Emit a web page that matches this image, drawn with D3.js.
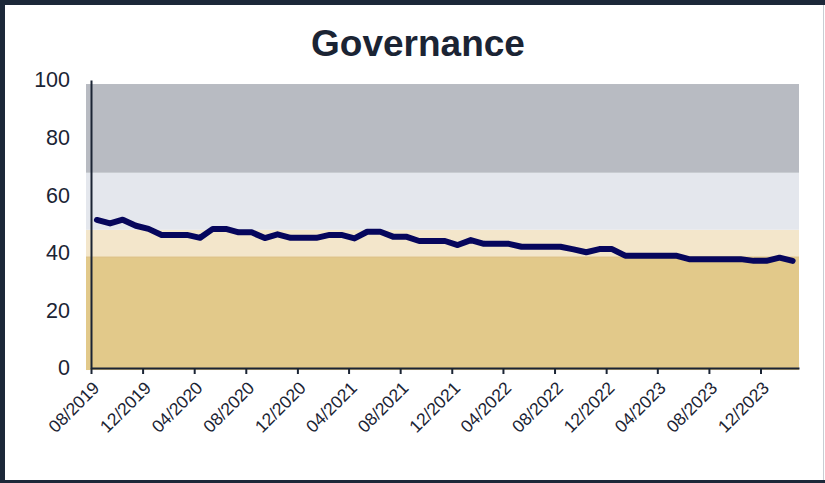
<!DOCTYPE html>
<html>
<head>
<meta charset="utf-8">
<script src="https://cdn.jsdelivr.net/npm/d3@7/dist/d3.min.js"></script>
<style>
  html, body { margin: 0; padding: 0; background: #fff; }
  svg { display: block; }
  text { font-family: "Liberation Sans", Arial, sans-serif; fill: #1b2434; }
</style>
</head>
<body>
<svg id="chart" width="825" height="483"></svg>
<script>
// ---------- data ----------
const title = "Governance";
const months = [
  "2019-08","2019-09","2019-10","2019-11","2019-12",
  "2020-01","2020-02","2020-03","2020-04","2020-05","2020-06","2020-07","2020-08","2020-09","2020-10","2020-11","2020-12",
  "2021-01","2021-02","2021-03","2021-04","2021-05","2021-06","2021-07","2021-08","2021-09","2021-10","2021-11","2021-12",
  "2022-01","2022-02","2022-03","2022-04","2022-05","2022-06","2022-07","2022-08","2022-09","2022-10","2022-11","2022-12",
  "2023-01","2023-02","2023-03","2023-04","2023-05","2023-06","2023-07","2023-08","2023-09","2023-10","2023-11","2023-12",
  "2024-01","2024-02"
];
const scores = [
  51.4, 50.2, 51.5, 49.4, 48.3,
  46.2, 46.2, 46.2, 45.2, 48.3, 48.3, 47.1, 47.1, 45.1, 46.4, 45.2, 45.2,
  45.2, 46.2, 46.2, 45.0, 47.3, 47.3, 45.6, 45.6, 44.1, 44.1, 44.1, 42.7,
  44.4, 43.1, 43.1, 43.1, 42.1, 42.1, 42.1, 42.1, 41.2, 40.2, 41.3, 41.3,
  39.0, 39.0, 39.0, 39.0, 39.0, 37.8, 37.8, 37.8, 37.8, 37.8, 37.2, 37.2,
  38.3, 37.2
];
const tickLabels = ["08/2019","12/2019","04/2020","08/2020","12/2020","04/2021","08/2021",
                    "12/2021","04/2022","08/2022","12/2022","04/2023","08/2023","12/2023"];
const yTicks = [0, 20, 40, 60, 80, 100];
const bandLow  = [-0.7, 38.5, 48.0, 67.8];
const bandHigh = [38.5, 48.0, 67.8, 98.6];
const bandColors = ["#e2c98a", "#f3e6cb", "#e4e7ed", "#b8bbc2"];

// ---------- layout ----------
const W = 825, H = 483;
const svg = d3.select("#chart");

const parseMonth = d3.timeParse("%Y-%m");
const parseTick = d3.timeParse("%m/%Y");

const x = d3.scaleTime()
  .domain([new Date(2019, 7, 1), new Date(2024, 2, 1)])
  .range([91, 799]);
const y = d3.scaleLinear().domain([0, 100]).range([368, 80]);

svg.append("rect").attr("x", 0).attr("y", 0).attr("width", W).attr("height", H).attr("fill", "#fff");

// bands
svg.append("g").selectAll("rect")
  .data(bandLow.map((lo, i) => ({lo, hi: bandHigh[i], c: bandColors[i]})))
  .join("rect")
  .attr("x", x.range()[0] - 5)
  .attr("width", x.range()[1] - x.range()[0] + 5)
  .attr("y", d => y(d.hi))
  .attr("height", d => y(d.lo) - y(d.hi))
  .attr("fill", d => d.c);
svg.append("line")
  .attr("x1", x.range()[0] - 5).attr("x2", x.range()[1])
  .attr("y1", y(bandHigh[0])).attr("y2", y(bandHigh[0]))
  .attr("stroke", "#d9bd7c").attr("stroke-width", 1);

// line
const pts = months.map((m, i) => {
  const d = parseMonth(m);
  return {date: new Date(d.getFullYear(), d.getMonth(), 15), v: scores[i]};
});
svg.append("path")
  .datum(pts)
  .attr("fill", "none")
  .attr("stroke", "#06065c")
  .attr("stroke-width", 6)
  .attr("stroke-linejoin", "round")
  .attr("stroke-linecap", "round")
  .attr("d", d3.line().x(d => x(d.date)).y(d => y(d.v)));

// x axis
const tickDates = tickLabels.map(parseTick);
const xAxis = svg.append("g")
  .attr("transform", `translate(0,${y(0)})`)
  .call(d3.axisBottom(x).tickValues(tickDates).tickSize(6).tickSizeOuter(0).tickFormat((d, i) => tickLabels[i]));
xAxis.select(".domain").attr("stroke", "#1b2434").attr("stroke-width", 2);
xAxis.selectAll(".tick line").attr("stroke", "#1b2434").attr("stroke-width", 2);
xAxis.selectAll(".tick text")
  .attr("font-size", 17.5)
  .attr("fill", "#1b2434")
  .attr("text-anchor", "end")
  .attr("y", 0).attr("dy", 0)
  .attr("transform", "translate(9,21) rotate(-45)");

// y axis
const yAxis = svg.append("g")
  .attr("transform", `translate(${x.range()[0]},0)`)
  .call(d3.axisLeft(y).tickValues(yTicks).tickSize(0).tickPadding(21));
yAxis.select(".domain").attr("stroke", "#1b2434").attr("stroke-width", 2);
yAxis.selectAll(".tick text").attr("font-size", 21.5).attr("fill", "#1b2434");

// title
svg.append("text")
  .attr("x", 418).attr("y", 56)
  .attr("text-anchor", "middle")
  .attr("font-size", 37)
  .attr("font-weight", "bold")
  .attr("fill", "#16223a")
  .text(title);

// border
svg.append("rect").attr("x", 0).attr("y", 0).attr("width", W).attr("height", 5).attr("fill", "#1c2839");
svg.append("rect").attr("x", 0).attr("y", 0).attr("width", 5).attr("height", H).attr("fill", "#1c2839");
svg.append("rect").attr("x", 0).attr("y", H - 3).attr("width", W).attr("height", 3).attr("fill", "#1c2839");
svg.append("rect").attr("x", W - 2).attr("y", 5).attr("width", 1).attr("height", H - 8).attr("fill", "#c9cdd3");
</script>
</body>
</html>
